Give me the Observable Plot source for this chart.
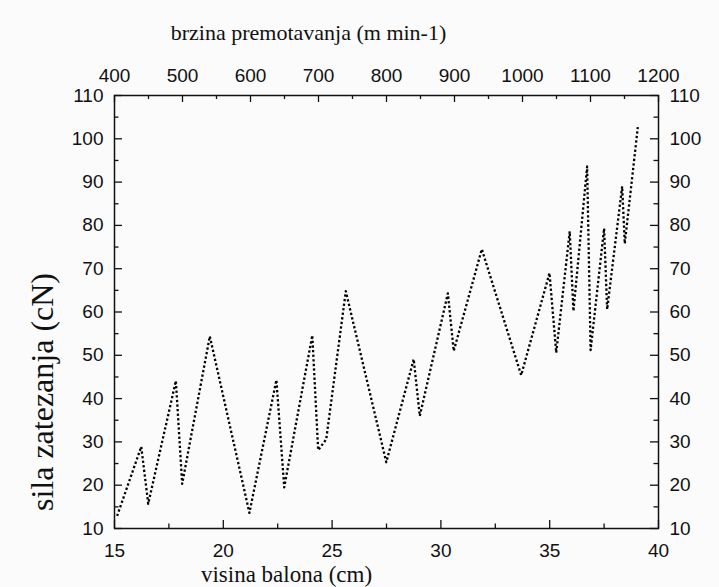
<!DOCTYPE html>
<html><head><meta charset="utf-8">
<script src="https://cdn.jsdelivr.net/npm/d3@7"></script>
<script src="https://cdn.jsdelivr.net/npm/@observablehq/plot@0.6"></script>
<style>body{margin:0;background:#fbfbfb}</style>
</head><body><div id="chart"></div>
<script>
// visina balona (cm) -> sila zatezanja (cN)
const height_cm = [15.12, 16.23, 16.55, 17.82, 18.11, 19.38, 21.2, 22.44, 22.8, 24.09, 24.36, 24.73, 25.63, 27.49, 28.75, 29.03, 30.32, 30.59, 31.88, 33.69, 34.99, 35.3, 35.92, 36.09, 36.72, 36.88, 37.5, 37.64, 38.33, 38.45, 39.05];
const force_cN  = [12.9, 28.9, 15.7, 44.1, 20.3, 54.4, 13.6, 44.3, 19.5, 54.6, 28.1, 30.6, 64.8, 25.3, 49.1, 36.0, 64.3, 51.0, 74.5, 45.4, 69.0, 50.6, 78.6, 60.2, 93.6, 51.2, 79.3, 60.6, 89.0, 75.8, 102.7];

const xTicks = [15, 20, 25, 30, 35, 40];
const xMinor = [17.5, 22.5, 27.5, 32.5, 37.5];
const yTicks = [10, 20, 30, 40, 50, 60, 70, 80, 90, 100, 110];
const yMinor = [15, 25, 35, 45, 55, 65, 75, 85, 95, 105];
const speedTicks = [400, 500, 600, 700, 800, 900, 1000, 1100, 1200];
const speedMinor = [450, 550, 650, 750, 850, 950, 1050, 1150];
const speedRange = [400, 1200];   // corresponds to x domain [15, 40]
const xDomain = [15, 40];
const yDomain = [10, 110];

const titleTop = "brzina premotavanja (m min-1)";
const titleBottom = "visina balona (cm)";
const titleLeft = "sila zatezanja (cN)";

const speedToX = s => xDomain[0] + (s - speedRange[0]) / (speedRange[1] - speedRange[0]) * (xDomain[1] - xDomain[0]);
const xToSpeed = x => Math.round(speedRange[0] + (x - xDomain[0]) / (xDomain[1] - xDomain[0]) * (speedRange[1] - speedRange[0]));

const data = height_cm.map((x, i) => ({x, y: force_cN[i]}));

const W = 719, H = 587, mL = 114, mR = 61, mT = 95, mB = 59;
const fW = W - mL - mR, fH = H - mT - mB;
const ink = "#111";
const serif = "'Liberation Serif', 'Times New Roman', serif";

const chart = Plot.plot({
  width: W, height: H,
  marginLeft: mL, marginRight: mR, marginTop: mT, marginBottom: mB,
  style: {fontFamily: "'Liberation Sans', Arial, sans-serif", fontSize: "19px", background: "#fbfbfb", color: ink},
  x: {domain: xDomain, axis: null},
  y: {domain: yDomain, axis: null},
  marks: [
    Plot.frame({stroke: ink, strokeWidth: 1.5}),
    // ticks pointing inward
    Plot.ruleX(xTicks, {x: d => d, insetTop: fH - 8, stroke: ink, strokeWidth: 1.3}),
    Plot.ruleX(xMinor, {x: d => d, insetTop: fH - 4.5, stroke: ink, strokeWidth: 1.3}),
    Plot.ruleX(speedTicks, {x: s => speedToX(s), insetBottom: fH - 7, stroke: ink, strokeWidth: 1.3}),
    Plot.ruleX(speedMinor, {x: s => speedToX(s), insetBottom: fH - 4, stroke: ink, strokeWidth: 1.3}),
    Plot.ruleY(yTicks, {y: d => d, insetRight: fW - 8, stroke: ink, strokeWidth: 1.3}),
    Plot.ruleY(yMinor, {y: d => d, insetRight: fW - 4.5, stroke: ink, strokeWidth: 1.3}),
    Plot.ruleY(yTicks, {y: d => d, insetLeft: fW - 8, stroke: ink, strokeWidth: 1.3}),
    Plot.ruleY(yMinor, {y: d => d, insetLeft: fW - 4.5, stroke: ink, strokeWidth: 1.3}),
    // tick labels
    Plot.axisX(xTicks, {anchor: "bottom", tickSize: 0, tickPadding: 15, fontSize: 19, label: null, tickFormat: d => String(d)}),
    Plot.axisX(speedTicks.map(speedToX), {anchor: "top", tickSize: 0, tickPadding: 14, fontSize: 19, label: null, tickFormat: x => String(xToSpeed(x))}),
    Plot.axisY(yTicks, {anchor: "left", tickSize: 0, tickPadding: 11, fontSize: 19, label: null, tickFormat: d => String(d)}),
    Plot.axisY(yTicks, {anchor: "right", tickSize: 0, tickPadding: 11, fontSize: 19, label: null, tickFormat: d => String(d)}),
    // dotted curve
    Plot.line(data, {x: "x", y: "y", stroke: "black", strokeWidth: 2.3, strokeDasharray: "2.3 2.3", strokeLinecap: "butt"}),
    // titles
    Plot.text([titleTop], {text: d => d, frameAnchor: "top-left", dx: 194, dy: -63, fontSize: 22, fontFamily: serif, textAnchor: "middle", lineAnchor: "middle", fill: ink}),
    Plot.text([titleBottom], {text: d => d, frameAnchor: "bottom-left", dx: 172, dy: 46, fontSize: 23, fontFamily: serif, textAnchor: "middle", lineAnchor: "middle", fill: ink}),
    Plot.text([titleLeft], {text: d => d, frameAnchor: "left", rotate: -90, dx: -72, dy: 80, fontSize: 32, fontFamily: serif, textAnchor: "middle", lineAnchor: "middle", fill: ink})
  ]
});
document.getElementById("chart").appendChild(chart);
</script>
</body></html>
